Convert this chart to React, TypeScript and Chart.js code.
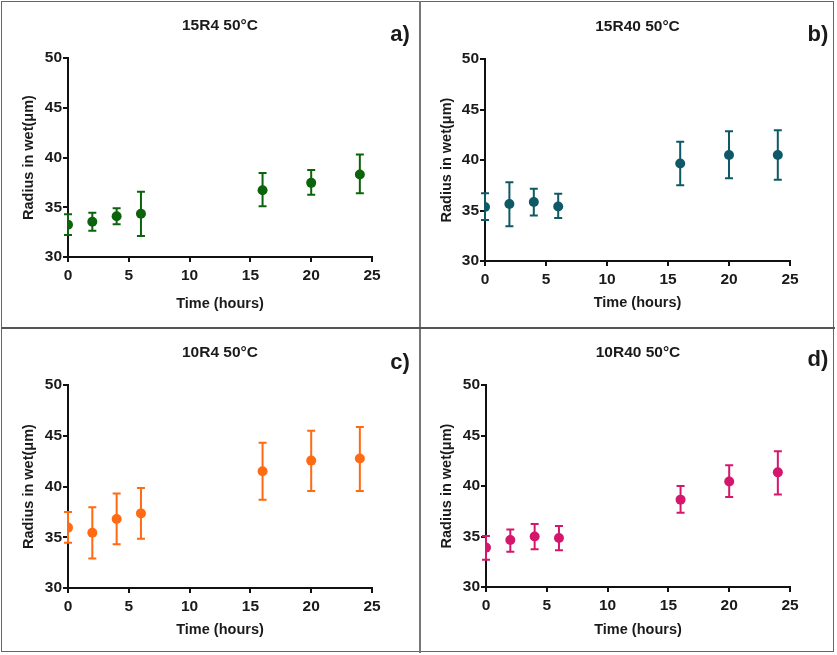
import React, { useEffect, useRef } from "react";
import { Chart, registerables } from "chart.js";
Chart.register(...registerables);

// ---- data ----
const hours = [0, 2, 4, 6, 16, 20, 24];
const xTickValues = [0, 5, 10, 15, 20, 25];
const yTickValues = [30, 35, 40, 45, 50];

const titles = ["15R4 50°C", "15R40 50°C", "10R4 50°C", "10R40 50°C"];
const letters = ["a)", "b)", "c)", "d)"];
const xAxisTitle = "Time (hours)";
const yAxisTitle = "Radius in wet(μm)";

const meanA = [33.25, 33.55, 34.1, 34.35, 36.7, 37.45, 38.3];
const upperA = [34.3, 34.45, 34.9, 36.55, 38.45, 38.75, 40.3];
const lowerA = [32.2, 32.65, 33.3, 32.1, 35.1, 36.25, 36.4];

const meanB = [35.35, 35.65, 35.85, 35.4, 39.65, 40.5, 40.5];
const upperB = [36.7, 37.8, 37.15, 36.65, 41.8, 42.85, 42.95];
const lowerB = [34.05, 33.45, 34.5, 34.25, 37.5, 38.2, 38.05];

const meanC = [35.95, 35.45, 36.8, 37.35, 41.5, 42.55, 42.75];
const upperC = [37.5, 37.95, 39.3, 39.85, 44.3, 45.5, 45.85];
const lowerC = [34.45, 32.9, 34.3, 34.85, 38.7, 39.55, 39.55];

const meanD = [33.9, 34.65, 35.0, 34.85, 38.65, 40.45, 41.35];
const upperD = [35.05, 35.7, 36.25, 36.05, 40.0, 42.05, 43.45];
const lowerD = [32.7, 33.5, 33.75, 33.65, 37.35, 38.9, 39.15];

const colors = ["#0b640b", "#0f5866", "#ff6a12", "#d4176c"];

// ---- layout ----
const panels = [
  { left: 3, top: 3, w: 417, h: 325, area: { l: 65, t: 55, r: 369, b: 254 }, titleY: 23, letterX: 397, letterY: 32, xTitleY: 301, yTitleX: 26 },
  { left: 421, top: 3, w: 414, h: 325, area: { l: 64, t: 56, r: 369, b: 258 }, titleY: 24, letterX: 397, letterY: 32, xTitleY: 300, yTitleX: 26 },
  { left: 3, top: 330, w: 417, h: 322, area: { l: 65, t: 55, r: 369, b: 258 }, titleY: 23, letterX: 397, letterY: 33, xTitleY: 300, yTitleX: 26 },
  { left: 421, top: 330, w: 414, h: 322, area: { l: 65, t: 55, r: 369, b: 257 }, titleY: 23, letterX: 397, letterY: 30, xTitleY: 300, yTitleX: 26 },
];

const series = [
  { mean: meanA, upper: upperA, lower: lowerA },
  { mean: meanB, upper: upperB, lower: lowerB },
  { mean: meanC, upper: upperC, lower: lowerC },
  { mean: meanD, upper: upperD, lower: lowerD },
];

const FONT = "'Liberation Sans', Arial, sans-serif";

function Panel({ idx }: { idx: number }) {
  const ref = useRef<HTMLCanvasElement | null>(null);
  useEffect(() => {
    const p = panels[idx];
    const s = series[idx];
    const color = colors[idx];
    const canvas = ref.current!;
    const decor = {
      id: "decor" + idx,
      beforeDatasetsDraw(chart: any) {
        const ctx = chart.ctx;
        const xs = chart.scales.x;
        const ys = chart.scales.y;
        ctx.save();
        ctx.strokeStyle = color;
        ctx.lineWidth = 2;
        for (let i = 0; i < hours.length; i++) {
          const x = xs.getPixelForValue(hours[i]);
          const yt = ys.getPixelForValue(s.upper[i]);
          const yb = ys.getPixelForValue(s.lower[i]);
          ctx.beginPath();
          ctx.moveTo(x, yt);
          ctx.lineTo(x, yb);
          ctx.moveTo(x - 4, yt);
          ctx.lineTo(x + 4, yt);
          ctx.moveTo(x - 4, yb);
          ctx.lineTo(x + 4, yb);
          ctx.stroke();
        }
        ctx.restore();
      },
      afterDraw(chart: any) {
        const ctx = chart.ctx;
        const a = chart.chartArea;
        ctx.save();
        ctx.fillStyle = "#1a1a1a";
        ctx.textAlign = "center";
        ctx.textBaseline = "middle";
        ctx.font = "bold 15.5px " + FONT;
        ctx.fillText(titles[idx], (a.left + a.right) / 2, p.titleY);
        ctx.font = "bold 22px " + FONT;
        ctx.fillText(letters[idx], p.letterX, p.letterY);
        ctx.font = "bold 14.5px " + FONT;
        ctx.fillText(xAxisTitle, (a.left + a.right) / 2, p.xTitleY);
        ctx.translate(p.yTitleX, (a.top + a.bottom) / 2);
        ctx.rotate(-Math.PI / 2);
        ctx.font = "bold 14.5px " + FONT;
        ctx.fillText(yAxisTitle, 0, 0);
        ctx.restore();
      },
    };
    const chart = new Chart(canvas, {
      type: "scatter",
      data: {
        datasets: [
          {
            data: hours.map((h, i) => ({ x: h, y: s.mean[i] })),
            backgroundColor: color,
            borderColor: color,
            pointRadius: 5,
            pointBorderWidth: 0,
            showLine: false,
          },
        ],
      },
      options: {
        responsive: false,
        animation: false,
        devicePixelRatio: 1,
        layout: { padding: { left: 0, top: p.area.t, right: p.w - p.area.r, bottom: 0 } },
        plugins: { legend: { display: false }, tooltip: { enabled: false }, title: { display: false } },
        scales: {
          x: {
            type: "linear",
            min: 0,
            max: 25,
            afterBuildTicks: (sc: any) => {
              sc.ticks = xTickValues.map((v) => ({ value: v }));
            },
            afterFit: (sc: any) => {
              sc.height = p.h - p.area.b;
            },
            grid: { drawOnChartArea: false, drawTicks: true, tickLength: 5, color: "#111", lineWidth: 2 },
            border: { display: true, color: "#111", width: 2 },
            ticks: { color: "#1a1a1a", font: { family: FONT, size: 15.5, weight: "bold" }, padding: 4, maxRotation: 0 },
          },
          y: {
            type: "linear",
            min: 30,
            max: 50,
            afterBuildTicks: (sc: any) => {
              sc.ticks = yTickValues.map((v) => ({ value: v }));
            },
            afterFit: (sc: any) => {
              sc.width = p.area.l;
            },
            grid: { drawOnChartArea: false, drawTicks: true, tickLength: 5, color: "#111", lineWidth: 2 },
            border: { display: true, color: "#111", width: 2 },
            ticks: { color: "#1a1a1a", font: { family: FONT, size: 15.5, weight: "bold" }, padding: 1 },
          },
        },
      },
      plugins: [decor],
    } as any);
    return () => chart.destroy();
  }, [idx]);
  const p = panels[idx];
  return (
    <canvas
      ref={ref}
      width={p.w}
      height={p.h}
      style={{ position: "absolute", left: p.left, top: p.top, width: p.w, height: p.h }}
    />
  );
}

export default function App() {
  return (
    <div style={{ position: "fixed", left: 0, top: 0, width: 837, height: 655, background: "#fff", overflow: "hidden" }}>
      <div style={{ position: "absolute", left: 1, top: 1, width: 833, height: 651, border: "1.5px solid #666", boxSizing: "border-box" }} />
      <div style={{ position: "absolute", left: 419, top: 1, width: 2, height: 652, background: "#777" }} />
      <div style={{ position: "absolute", left: 1, top: 327, width: 834, height: 2, background: "#555" }} />
      {[0, 1, 2, 3].map((i) => (
        <Panel key={i} idx={i} />
      ))}
    </div>
  );
}
